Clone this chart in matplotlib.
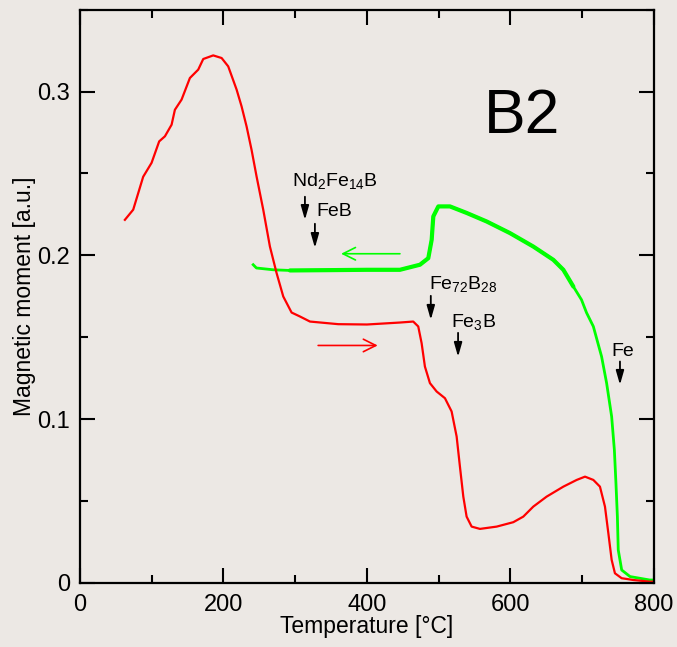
import numpy as np
import matplotlib
matplotlib.use("Agg")
import matplotlib.pyplot as plt
from matplotlib.ticker import MultipleLocator

plt.rcParams['font.family'] = ['Liberation Sans', 'DejaVu Sans']
plt.rcParams['mathtext.fontset'] = 'custom'
plt.rcParams['mathtext.rm'] = 'Liberation Sans'
plt.rcParams['mathtext.it'] = 'Liberation Sans'

# heating curve (red)
heat_T = [62.7, 74.3, 88.2, 99.9, 110.5, 118.5, 127.8, 132.4, 141.7, 153.3,
          164.9, 171.9, 185.8, 197.5, 206.7, 218.4, 225.3, 232.3, 239.2, 246.2,
          255.5, 264.8, 274.1, 283.4, 295.0, 306.6, 320.6, 360, 400, 446,
          464.5, 471.5, 476.2, 480.8, 487.8, 497.1, 508.7, 518.0, 525.0, 529.6,
          534.3, 538.9, 545.9, 557.5, 580.8, 604.0, 617.9, 631.8, 650.4, 673.7,
          692.3, 703.9, 715.5, 724.7, 731.7, 736.4, 741.0, 745.6, 754.9, 771.2,
          794, 800]
heat_m = [0.2217, 0.2279, 0.248, 0.2565, 0.2696, 0.2727, 0.2798, 0.2889, 0.2951,
          0.3083, 0.3134, 0.3199, 0.3221, 0.3205, 0.3154, 0.3012, 0.2910, 0.2787,
          0.2645, 0.2482, 0.2279, 0.2054, 0.1892, 0.1749, 0.1651, 0.1627, 0.1596,
          0.1580, 0.1578, 0.1590, 0.1596, 0.1566, 0.1464, 0.1321, 0.1220, 0.1169,
          0.1128, 0.1047, 0.0894, 0.0710, 0.0527, 0.0405, 0.0344, 0.0330, 0.0344,
          0.0371, 0.0405, 0.0466, 0.0527, 0.0588, 0.0629, 0.0649, 0.0629, 0.0588,
          0.0466, 0.0304, 0.0141, 0.0059, 0.0029, 0.0018, 0.0008, 0.0008]

# cooling curve (green), from 800 down to 240
cool_T = [800, 794, 766.6, 755, 750.2, 749, 747, 744.8, 741, 734, 727, 715.5,
          706, 699, 687.6, 673.7, 659.7, 631.8, 599.3, 566.8, 539, 515.7, 499.5,
          492.5, 490.2, 485.5, 473.9, 446, 400, 350, 292.7, 269.5, 246, 241.5]
cool_m = [0.0018, 0.0018, 0.0039, 0.0079, 0.0202, 0.0405, 0.0609, 0.0812, 0.1016,
          0.1220, 0.1382, 0.1566, 0.1650, 0.1729, 0.1810, 0.1912, 0.1973, 0.2054,
          0.2136, 0.2207, 0.2259, 0.2299, 0.2299, 0.2238, 0.2095, 0.1983, 0.1943,
          0.1912, 0.1912, 0.1910, 0.1908, 0.1912, 0.1923, 0.1943]

# phase labels: text, text x, text y, arrow x, arrow top, arrow bottom
phases = [
    (r'Nd$_2$Fe$_{14}$B', 295.5, 0.2455, 313.6, 0.2358, 0.2217),
    ('FeB', 330, 0.2265, 327.5, 0.2193, 0.2046),
    (r'Fe$_{72}$B$_{28}$', 486, 0.1825, 489, 0.1753, 0.1607),
    (r'Fe$_3$B', 517, 0.1595, 527, 0.1527, 0.1381),
    ('Fe', 741, 0.1415, 752.6, 0.1352, 0.1210),
]

bg = '#ece8e4'
fig = plt.figure(figsize=(6.77, 6.47), dpi=100, facecolor=bg)
ax = fig.add_axes([0.118, 0.099, 0.848, 0.886], facecolor=bg)

# green trace is noisy (a bit thicker) on the plateaus
ax.plot(cool_T, cool_m, color='#00ff00', lw=2.0, solid_joinstyle='round')
ax.plot(cool_T[14:31], cool_m[14:31], color='#00ff00', lw=3.0,
        solid_joinstyle='round', solid_capstyle='round')
ax.plot(heat_T, heat_m, color='#ff0000', lw=1.6, solid_joinstyle='round')

ax.annotate('', xy=(415, 0.145), xytext=(332, 0.145),
            arrowprops=dict(arrowstyle='->,head_length=0.5,head_width=0.25',
                            color='#ff0000', lw=1.2, mutation_scale=18,
                            shrinkA=0, shrinkB=0))
ax.annotate('', xy=(364, 0.201), xytext=(446, 0.201),
            arrowprops=dict(arrowstyle='->,head_length=0.5,head_width=0.25',
                            color='#00ff00', lw=1.2, mutation_scale=18,
                            shrinkA=0, shrinkB=0))

for txt, tx, ty, axx, a0, a1 in phases:
    ax.text(tx, ty, txt, fontsize=14, ha='left', va='center')
    ax.annotate('', xy=(axx, a1), xytext=(axx, a0),
                arrowprops=dict(arrowstyle='-|>,head_length=0.7,head_width=0.2',
                                color='black', lw=1.3, mutation_scale=12,
                                shrinkA=0, shrinkB=0))

ax.text(616, 0.2847, 'B2', fontsize=45, ha='center', va='center')

ax.set_xlim(0, 800)
ax.set_ylim(0, 0.35)
ax.xaxis.set_major_locator(MultipleLocator(200))
ax.xaxis.set_minor_locator(MultipleLocator(100))
ax.yaxis.set_major_locator(MultipleLocator(0.1))
ax.yaxis.set_minor_locator(MultipleLocator(0.05))
ax.yaxis.set_major_formatter(plt.FuncFormatter(lambda v, p: '0' if v == 0 else '%g' % round(v, 2)))
ax.tick_params(which='both', direction='in', top=True, right=True,
               width=1.5, labelsize=17, colors='black')
ax.tick_params(which='major', length=11)
ax.tick_params(which='minor', length=6)
ax.tick_params(axis='x', which='major', pad=8)
ax.tick_params(axis='y', which='major', pad=7)
for s in ax.spines.values():
    s.set_linewidth(1.6)

ax.set_xlabel('Temperature [°C]', fontsize=16.5, labelpad=-1)
ax.set_ylabel('Magnetic moment [a.u.]', fontsize=16.5, labelpad=1)

fig.savefig('out.png', dpi=100, facecolor=bg)
